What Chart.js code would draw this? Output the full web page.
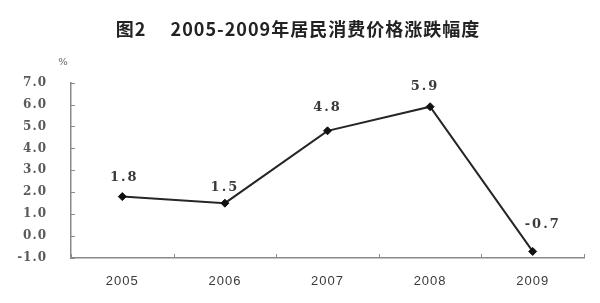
<!DOCTYPE html>
<html>
<head>
<meta charset="utf-8">
<script src="https://cdn.jsdelivr.net/npm/chart.js@4/dist/chart.umd.min.js"></script>
<style>
    html, body { margin: 0; padding: 0; background: #fff; }
    #wrap { width: 600px; height: 303px; }
</style>
</head>
<body>
<div id="wrap"><canvas id="cpiChart" width="600" height="303"></canvas></div>
<script>
// chart data
const years = ['2005', '2006', '2007', '2008', '2009'];
const cpiChange = [1.8, 1.5, 4.8, 5.9, -0.7];
const yTicks = [-1, 0, 1, 2, 3, 4, 5, 6, 7];

const chartTitle = '图2\u3000 2005-2009年居民消费价格涨跌幅度';

// nudges for the value labels (dx, dy above the point)
const labelShift = [[2, 19], [0, 16], [0, 23], [-5, 20], [10, 27]];

/**
 * Wider letter spacing for all text (the scan uses a wide font)
 */
const spacingPlugin = {
    id: 'spacing',
    beforeDraw(chart) {
        chart.ctx.letterSpacing = '1px';
    }
};

/**
 * Small tick marks drawn inside the axes, value labels and the % unit
 */
const decorPlugin = {
    id: 'decor',
    afterDatasetsDraw(chart) {
        const ctx = chart.ctx;
        const x = chart.scales.x;
        const y = chart.scales.y;
        const area = chart.chartArea;

        ctx.save();
        ctx.strokeStyle = '#8a8a8a';
        ctx.lineWidth = 1;
        ctx.beginPath();
        yTicks.forEach(v => {
            const py = Math.round(y.getPixelForValue(v)) + 0.5;
            ctx.moveTo(area.left, py);
            ctx.lineTo(area.left + 4, py);
        });
        for (let i = 0; i <= years.length; i++) {
            const px = Math.round(x.getPixelForValue(i - 0.5)) + 0.5;
            ctx.moveTo(px, area.bottom);
            ctx.lineTo(px, area.bottom - 4);
        }
        ctx.stroke();

        // value labels
        ctx.letterSpacing = '2px';
        ctx.fillStyle = '#3a3a3a';
        ctx.font = 'bold 13px "DejaVu Serif"';
        ctx.textAlign = 'center';
        ctx.textBaseline = 'middle';
        const meta = chart.getDatasetMeta(0);
        meta.data.forEach((pt, i) => {
            const s = labelShift[i];
            ctx.fillText(cpiChange[i].toFixed(1), pt.x + s[0], pt.y - s[1]);
        });

        // unit
        ctx.letterSpacing = '0px';
        ctx.fillStyle = '#666';
        ctx.font = '10px "DejaVu Serif"';
        ctx.fillText('%', area.left - 8, area.top - 20);
        ctx.restore();
    }
};

function initChart() {
    const ctx = document.getElementById('cpiChart');
    if (!ctx) return;

    new Chart(ctx, {
        type: 'line',
        data: {
            labels: years,
            datasets: [{
                data: cpiChange,
                borderColor: '#262626',
                borderWidth: 2,
                tension: 0,
                pointStyle: 'rectRot',
                pointRadius: 4,
                pointBackgroundColor: '#111',
                pointBorderColor: '#111',
                pointBorderWidth: 1
            }]
        },
        options: {
            responsive: false,
            animation: false,
            devicePixelRatio: 1,
            layout: {
                padding: { left: 12, right: 16, top: 0, bottom: 0 }
            },
            plugins: {
                legend: { display: false },
                tooltip: { enabled: false },
                title: {
                    display: true,
                    text: chartTitle,
                    color: '#222',
                    font: { size: 18, weight: 'bold', family: '"Noto Sans CJK SC"', lineHeight: 1.2 },
                    padding: { top: 18, bottom: 43 }
                }
            },
            scales: {
                x: {
                    offset: true,
                    grid: { display: false, drawTicks: false },
                    border: { display: true, color: '#8a8a8a', width: 1.5 },
                    ticks: {
                        color: '#3a3a3a',
                        padding: 16,
                        font: { size: 13, family: 'Arial, "Liberation Sans"' }
                    },
                    afterFit(scale) { scale.height = 45; }
                },
                y: {
                    min: -1,
                    max: 7,
                    grid: { display: false, drawTicks: false },
                    border: { display: true, color: '#8a8a8a', width: 1.5 },
                    ticks: {
                        stepSize: 1,
                        color: '#5a5a5a',
                        padding: 24,
                        font: { size: 12, weight: 'bold', family: '"DejaVu Serif"' },
                        callback: v => v.toFixed(1)
                    },
                    afterFit(scale) { scale.width = 59; }
                }
            }
        },
        plugins: [spacingPlugin, decorPlugin]
    });
}

document.addEventListener('DOMContentLoaded', initChart);
</script>
</body>
</html>
